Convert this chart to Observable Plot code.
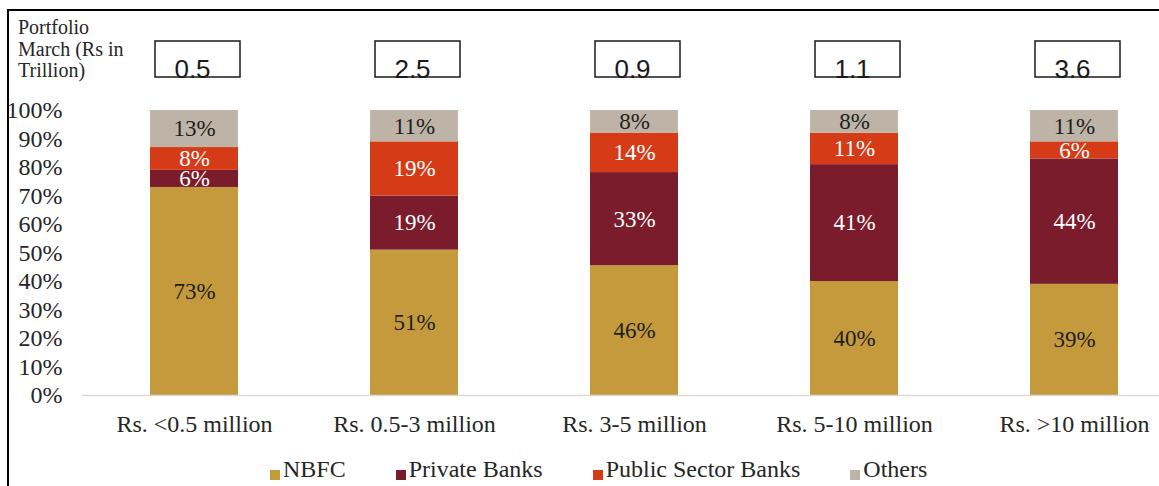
<!DOCTYPE html>
<html>
<head>
<meta charset="utf-8">
<script src="https://cdn.jsdelivr.net/npm/d3@7"></script>
<script src="https://cdn.jsdelivr.net/npm/@observablehq/plot@0.6"></script>
<style>
  html, body { margin: 0; padding: 0; background: #fff; overflow: hidden; width: 1159px; height: 486px; }
  #wrap { position: relative; width: 1159px; height: 486px; }
  #chart { position: absolute; left: 0; top: 0; }
  #chart svg { font-family: "Liberation Serif", "Times New Roman", serif; font-size: 24px; }
  #frame { position: absolute; left: 7px; top: 9px; width: 1300px; height: 600px; border-left: 2px solid #000; border-top: 2px solid #000; pointer-events: none; }
  #ptitle { position: absolute; left: 18px; top: 17px; font-family: "Liberation Serif", serif; font-size: 20px; line-height: 21.5px; color: #262626; }
  #legend { position: absolute; left: 270px; top: 456px; display: flex; align-items: center; font-family: "Liberation Serif", serif; font-size: 24px; line-height: 26px; color: #262626; }
  #legend .item { display: flex; align-items: center; margin-right: 50px; }
  #legend .sw { width: 10px; height: 10px; margin-right: 3px; position: relative; top: 6px; }
</style>
</head>
<body>
<div id="wrap">
  <div id="chart"></div>
  <div id="ptitle">Portfolio<br>March (Rs in<br>Trillion)</div>
  <div id="legend"></div>
  <div id="frame"></div>
</div>
<script>
const categories = ["Rs. <0.5 million", "Rs. 0.5-3 million", "Rs. 3-5 million", "Rs. 5-10 million", "Rs. >10 million"];
const portfolio = [0.5, 2.5, 0.9, 1.1, 3.6];
const seriesNames = ["NBFC", "Private Banks", "Public Sector Banks", "Others"];
const seriesColors = ["#C49A3C", "#7A1C2B", "#D63B17", "#BDB4A7"];
const nbfc = [73, 51, 46, 40, 39];
const privateBanks = [6, 19, 33, 41, 44];
const publicBanks = [8, 19, 14, 11, 6];
const others = [13, 11, 8, 8, 11];
const yTicks = [0, 0.1, 0.2, 0.3, 0.4, 0.5, 0.6, 0.7, 0.8, 0.9, 1.0];
const darkLabelSeries = ["NBFC", "Others"];

const seriesValues = [nbfc, privateBanks, publicBanks, others];
const rows = [];
seriesNames.forEach((s, si) => {
  categories.forEach((c, ci) => {
    rows.push({category: c, series: s, value: seriesValues[si][ci]});
  });
});
const boxes = categories.map((c, i) => ({category: c, value: portfolio[i]}));

const stackOpts = {x: "category", y: "value", z: "series", offset: "normalize"};

const plot = Plot.plot({
  width: 1159,
  height: 446,
  marginTop: 110,
  marginBottom: 51,
  marginLeft: 82,
  marginRight: 0,
  style: {fontFamily: "Liberation Serif, Times New Roman, serif", fontSize: "24px", color: "#262626", background: "transparent"},
  x: {type: "band", domain: categories, range: [82, 1186], paddingInner: 0.6, paddingOuter: 0.3, label: null, tickSize: 0, tickPadding: 19},
  y: {domain: [0, 1], ticks: yTicks, tickFormat: d3.format(".0%"), tickSize: 0, tickPadding: 20, label: null},
  color: {domain: seriesNames, range: seriesColors},
  marks: [
    Plot.barY(rows, {...stackOpts, fill: "series"}),
    Plot.ruleY([0], {stroke: "#d9d9d9", strokeWidth: 1.5}),
    Plot.text(rows, Plot.stackY({...stackOpts, text: d => darkLabelSeries.includes(d.series) ? d.value + "%" : "", fill: "#1f1f1f", fontSize: 23})),
    Plot.text(rows, Plot.stackY({...stackOpts, text: d => darkLabelSeries.includes(d.series) ? "" : d.value + "%", fill: "#ffffff", fontSize: 23})),
    Plot.barY(boxes, {x: "category", y1: 1, y2: 1, insetTop: -69, insetBottom: 33, insetLeft: 5, insetRight: -2, fill: "none", stroke: "#1a1a1a", strokeWidth: 1.5}),
    Plot.text(boxes, {x: "category", y: 1, text: d => String(d.value), dy: -33, dx: -2, lineAnchor: "bottom", fontFamily: "Liberation Sans, Arial, sans-serif", fontSize: 26, fill: "#1a1a1a"})
  ]
});
document.getElementById("chart").appendChild(plot);

const color = plot.scale("color");
const legend = document.getElementById("legend");
color.domain.forEach((name, i) => {
  const item = document.createElement("div");
  item.className = "item";
  const sw = document.createElement("span");
  sw.className = "sw";
  sw.style.background = color.range[i];
  const label = document.createElement("span");
  label.textContent = name;
  item.appendChild(sw);
  item.appendChild(label);
  legend.appendChild(item);
});
</script>
</body>
</html>
